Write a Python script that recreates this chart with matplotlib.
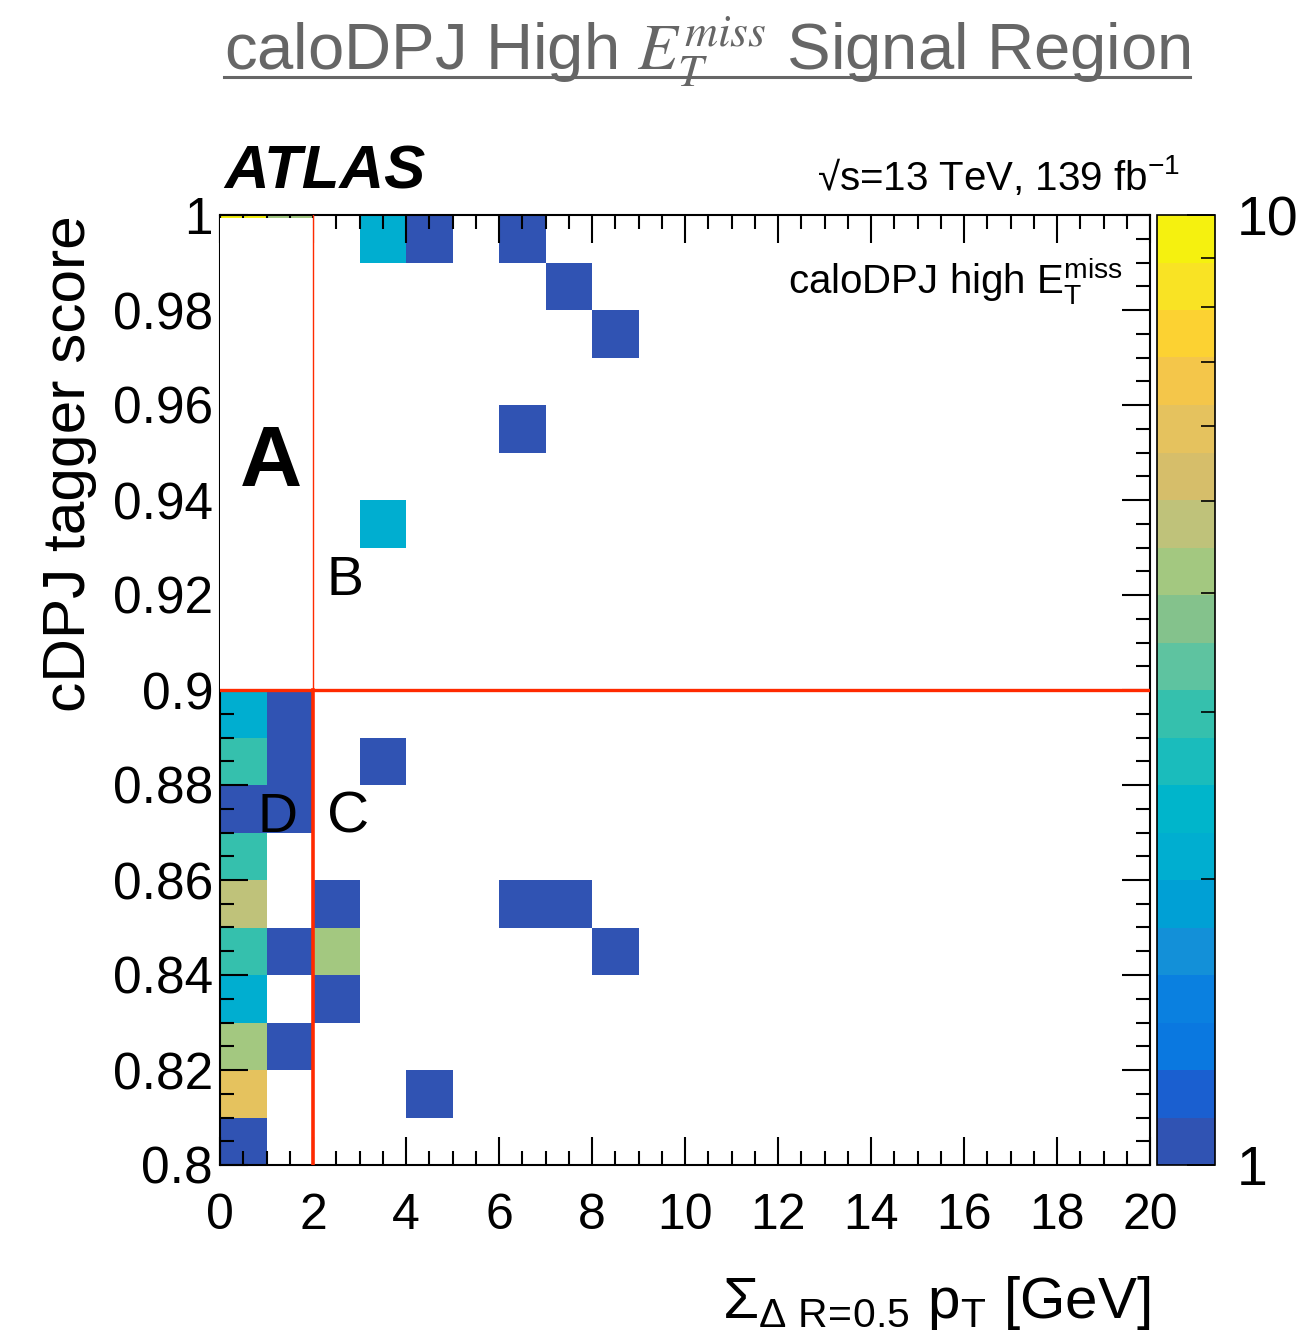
import numpy as np
import matplotlib
matplotlib.use('Agg')
import matplotlib.pyplot as plt
from matplotlib.colors import ListedColormap, LogNorm
from matplotlib.patches import Rectangle
from matplotlib.ticker import MultipleLocator, FuncFormatter, FixedLocator, LogLocator, NullFormatter

plt.rcParams['font.family'] = ['Liberation Sans', 'DejaVu Sans']
plt.rcParams['mathtext.fontset'] = 'custom'
plt.rcParams['mathtext.rm'] = 'Liberation Sans'
plt.rcParams['mathtext.it'] = 'Liberation Sans:italic'
plt.rcParams['mathtext.bf'] = 'Liberation Sans:bold'

# binning of the 2D histogram
x_edges = np.arange(0, 21, 1)
y_edges = np.round(np.arange(0.80, 1.0001, 0.01), 2)

# filled cells : lower edge in x, lower edge in y, number of events
cell_x = [0, 0, 0, 0, 0, 0, 0, 0, 0, 0,
          1, 1, 1, 1, 1,
          2, 2, 2,
          3, 3, 3,
          4, 4,
          6, 6, 6,
          7, 7,
          8, 8]
cell_y = [0.80, 0.81, 0.82, 0.83, 0.84, 0.85, 0.86, 0.87, 0.88, 0.89,
          0.82, 0.84, 0.87, 0.88, 0.89,
          0.83, 0.84, 0.85,
          0.88, 0.93, 0.99,
          0.81, 0.99,
          0.85, 0.95, 0.99,
          0.85, 0.98,
          0.84, 0.97]
cell_n = [1, 6, 4, 2, 3, 5, 3, 1, 3, 2,
          1, 1, 1, 1, 1,
          1, 4, 1,
          1, 2, 2,
          1, 1,
          1, 1, 1,
          1, 1,
          1, 1]
# region A (blinded, only a sliver shows at the top edge)
blind_x = [0, 1]
blind_y = [0.99, 0.99]
blind_n = [10, 4]

# ABCD cuts
x_cut = 2
y_cut = 0.9

# ROOT kBird palette, 20 contour levels
bird = ['#3053b3', '#1a5fd0', '#0a78e0', '#0a80e0', '#1390d8', '#00a0d5', '#00aed0',
        '#00b5cb', '#1abcbc', '#35c0ad', '#5ec3a0', '#84c28c', '#a3c880', '#bfc27a',
        '#d6be6a', '#e5c25e', '#f4c64a', '#fcd232', '#f9e324', '#f5f10f']

H = np.full((len(y_edges) - 1, len(x_edges) - 1), np.nan)
for xx, yy, nn in zip(cell_x + blind_x, cell_y + blind_y, cell_n + blind_n):
    i = int(round((yy - 0.80) / 0.01))
    j = int(xx)
    H[i, j] = nn

fig = plt.figure(figsize=(12.96, 13.4), dpi=100)
ax = fig.add_axes([220/1296, 1 - 1165/1340, 930/1296, 950/1340])

cmap = ListedColormap(bird)
norm = LogNorm(vmin=1, vmax=10)
mesh = ax.pcolormesh(x_edges, y_edges, np.ma.masked_invalid(H), cmap=cmap, norm=norm,
                     edgecolors='face', linewidth=0, antialiased=False)

# blinded region A
ax.add_patch(Rectangle((0, y_cut), x_cut, 0.0994, facecolor='white', edgecolor='none', zorder=3))
ax.plot([x_cut, x_cut], [y_cut, 1.0], color='#ff2a00', lw=1, zorder=4)
ax.plot([0, 20], [y_cut, y_cut], color='#ff2a00', lw=2.4, zorder=4)
ax.plot([x_cut, x_cut], [0.8, y_cut], color='#ff2a00', lw=2.6, zorder=4)

ax.set_xlim(0, 20)
ax.set_ylim(0.8, 1.0)
ax.xaxis.set_major_locator(MultipleLocator(2))
ax.xaxis.set_minor_locator(MultipleLocator(0.5))
ax.yaxis.set_major_locator(MultipleLocator(0.02))
ax.yaxis.set_minor_locator(MultipleLocator(0.005))
ax.yaxis.set_major_formatter(FuncFormatter(lambda v, p: '%g' % round(v, 3)))
ax.xaxis.set_major_formatter(FuncFormatter(lambda v, p: '%g' % v))
ax.tick_params(which='both', direction='in', top=True, right=True, width=1.5)
ax.tick_params(which='major', length=20)
ax.tick_params(which='minor', length=10)
ax.tick_params(axis='x', which='major', labelsize=36, pad=20)
ax.tick_params(axis='y', which='major', labelsize=37, pad=5)
for s in ax.spines.values():
    s.set_linewidth(1.5)

# region letters
ax.text(0.43, 0.943, 'A', fontsize=62, fontweight='bold', zorder=5)
ax.text(2.3, 0.920, 'B', fontsize=40, zorder=5)
ax.text(2.3, 0.870, 'C', fontsize=42, zorder=5)
ax.text(0.8, 0.870, 'D', fontsize=40, zorder=5)

# axis titles
ax.text(1.0, -0.161, r'$\Sigma_{\Delta\ \mathrm{R}\!=\!\mathrm{0.5}}\ \mathrm{p_{T}}$ [GeV]',
        transform=ax.transAxes, ha='right', va='baseline', fontsize=42)
ax.text(-150/930, 1.0, 'cDPJ tagger score', transform=ax.transAxes, rotation=90,
        ha='center', va='top', fontsize=43.5)

ax.text(0.005, 1.028, 'ATLAS', transform=ax.transAxes, fontsize=44.5,
        fontweight='bold', fontstyle='italic', va='baseline')
ax.text(1.032, 1.026, '\u221as=13 TeV, 139 fb$^{-1}$', transform=ax.transAxes,
        ha='right', va='baseline', fontsize=29)
ax.text(0.97, 0.917, r'caloDPJ high E$_{\mathrm{T}}^{\mathrm{miss}}$', transform=ax.transAxes,
        ha='right', va='baseline', fontsize=29)

# colour scale
cax = fig.add_axes([1157/1296, 1 - 1165/1340, 58/1296, 950/1340])
cb = fig.colorbar(mesh, cax=cax)
cb.outline.set_linewidth(1.2)
cax.yaxis.set_major_locator(FixedLocator([1, 10]))
cax.yaxis.set_minor_locator(LogLocator(base=10, subs=np.arange(2, 10)))
cax.yaxis.set_major_formatter(FuncFormatter(lambda v, p: '%g' % v))
cax.yaxis.set_minor_formatter(NullFormatter())
cax.tick_params(which='both', direction='in', width=1.2)
cax.tick_params(which='major', length=20, labelsize=40, pad=16)
cax.tick_params(which='minor', length=10)

# page title, underlined
title = fig.text(707/1296, 1 - 70/1340, r'caloDPJ High $E_T^{miss}$ Signal Region',
                 ha='center', va='baseline', fontsize=47, color='#666666',
                 math_fontfamily='stix')
fig.canvas.draw()
bb = title.get_window_extent().transformed(fig.transFigure.inverted())
fig.add_artist(plt.Line2D([bb.x0, bb.x1], [1 - 77/1340, 1 - 77/1340],
                          color='#666666', lw=2.2, transform=fig.transFigure))

fig.savefig('out.png', dpi=100)
